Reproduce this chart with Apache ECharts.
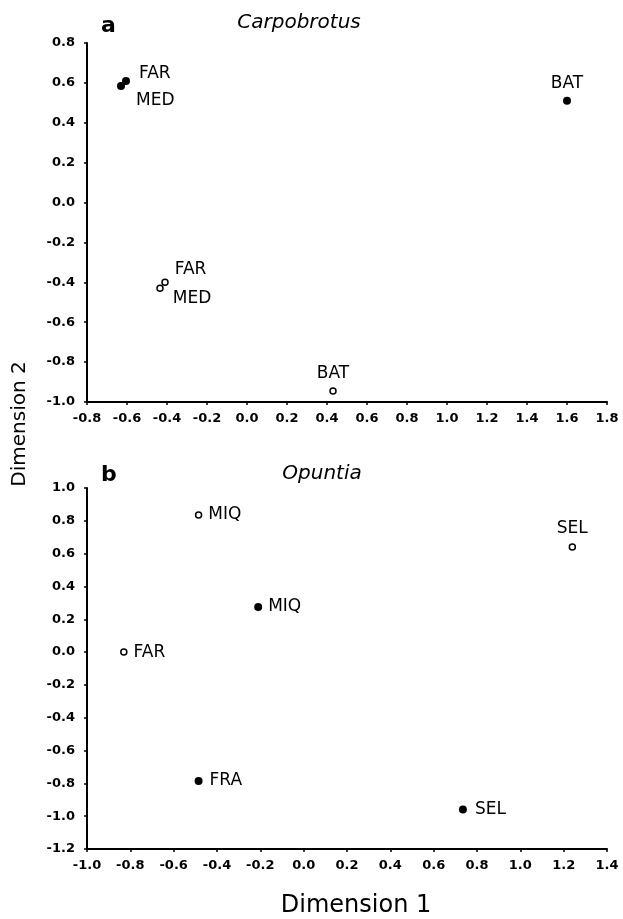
<!DOCTYPE html>
<html>
<head>
<meta charset="utf-8">
<script src="https://cdn.jsdelivr.net/npm/echarts@6/dist/echarts.min.js"></script>
<style>
  html, body { margin: 0; padding: 0; background: #fff; }
  #chart { width: 623px; height: 919px; }
</style>
</head>
<body>
<div id="chart"></div>
<script>
  // panel a - Carpobrotus
  var aFilledNames = ['FAR', 'MED', 'BAT'];
  var aFilledX = [-0.605, -0.63, 1.60];
  var aFilledY = [0.61, 0.585, 0.51];
  var aOpenNames = ['FAR', 'MED', 'BAT'];
  var aOpenX = [-0.41, -0.435, 0.43];
  var aOpenY = [-0.40, -0.43, -0.945];

  // panel b - Opuntia
  var bFilledNames = ['MIQ', 'FRA', 'SEL'];
  var bFilledX = [-0.21, -0.485, 0.735];
  var bFilledY = [0.275, -0.785, -0.96];
  var bOpenNames = ['MIQ', 'FAR', 'SEL'];
  var bOpenX = [-0.485, -0.83, 1.24];
  var bOpenY = [0.835, 0.0, 0.64];

  // label placement (style only)
  var aFilledLabel = [
    {position: 'right', distance: 9, offset: [0, -7]},
    {position: 'right', distance: 11, offset: [0, 15]},
    {position: 'top', distance: 5}
  ];
  var aOpenLabel = [
    {position: 'right', distance: 6, offset: [0, -13]},
    {position: 'right', distance: 9, offset: [0, 10]},
    {position: 'top', distance: 5}
  ];
  var bFilledLabel = [
    {position: 'right', distance: 6},
    {position: 'right', distance: 7},
    {position: 'right', distance: 8}
  ];
  var bOpenLabel = [
    {position: 'right', distance: 6},
    {position: 'right', distance: 6},
    {position: 'top', distance: 6}
  ];

  var FONT = 'DejaVu Sans';

  function points(names, xs, ys, place) {
    return names.map(function (n, i) {
      return {
        name: n,
        value: [xs[i], ys[i]],
        label: Object.assign({show: true, formatter: n, color: '#000'}, place[i])
      };
    });
  }

  function fmt(v) {
    return (Math.abs(v) < 1e-9 ? 0 : v).toFixed(1);
  }

  function axis(grid, min, max, isX) {
    return {
      type: 'value',
      gridIndex: grid,
      min: min,
      max: max,
      interval: 0.2,
      axisLine: {show: true, onZero: false, lineStyle: {color: '#000', width: 2}},
      axisTick: {show: true, length: 3, lineStyle: {color: '#000', width: 1.5}},
      splitLine: {show: false},
      axisLabel: {
        color: '#000',
        fontFamily: FONT,
        fontWeight: 'bold',
        fontSize: 13,
        margin: isX ? 10 : 12,
        padding: isX ? 0 : [6, 0, 0, 0],
        formatter: fmt
      }
    };
  }

  var labelStyle = {color: '#000', fontFamily: FONT, fontSize: 17};
  var filled = {color: '#000', opacity: 1};
  var open = {color: '#fff', borderColor: '#000', borderWidth: 1.5, opacity: 1};

  var myChart = echarts.init(document.getElementById('chart'));
  var option = {
    backgroundColor: '#fff',
    animation: false,
    grid: [
      {left: 87, top: 43, width: 520, height: 359},
      {left: 87, top: 488, width: 520, height: 361}
    ],
    xAxis: [axis(0, -0.8, 1.8, true), axis(1, -1.0, 1.4, true)],
    yAxis: [axis(0, -1.0, 0.8, false), axis(1, -1.2, 1.0, false)],
    series: [
      {
        type: 'scatter', xAxisIndex: 0, yAxisIndex: 0,
        symbolSize: 8, itemStyle: filled, label: labelStyle,
        data: points(aFilledNames, aFilledX, aFilledY, aFilledLabel)
      },
      {
        type: 'scatter', xAxisIndex: 0, yAxisIndex: 0,
        symbolSize: 6, itemStyle: open, label: labelStyle,
        data: points(aOpenNames, aOpenX, aOpenY, aOpenLabel)
      },
      {
        type: 'scatter', xAxisIndex: 1, yAxisIndex: 1,
        symbolSize: 8, itemStyle: filled, label: labelStyle,
        data: points(bFilledNames, bFilledX, bFilledY, bFilledLabel)
      },
      {
        type: 'scatter', xAxisIndex: 1, yAxisIndex: 1,
        symbolSize: 6, itemStyle: open, label: labelStyle,
        data: points(bOpenNames, bOpenX, bOpenY, bOpenLabel)
      }
    ],
    graphic: [
      {type: 'text', x: 101, y: 26, style: {text: 'a', font: 'bold 22px "DejaVu Sans"', fill: '#000', verticalAlign: 'middle'}},
      {type: 'text', x: 299, y: 23, style: {text: 'Carpobrotus', font: 'italic 20px "DejaVu Sans"', fill: '#000', align: 'center', verticalAlign: 'middle'}},
      {type: 'text', x: 101, y: 475, style: {text: 'b', font: 'bold 22px "DejaVu Sans"', fill: '#000', verticalAlign: 'middle'}},
      {type: 'text', x: 322, y: 474, style: {text: 'Opuntia', font: 'italic 20px "DejaVu Sans"', fill: '#000', align: 'center', verticalAlign: 'middle'}},
      {type: 'text', x: 356, y: 906, style: {text: 'Dimension 1', font: '24px "DejaVu Sans"', fill: '#000', align: 'center', verticalAlign: 'middle'}},
      {type: 'text', x: 20, y: 424, rotation: Math.PI / 2, style: {text: 'Dimension 2', font: '20px "DejaVu Sans"', fill: '#000', align: 'center', verticalAlign: 'middle'}}
    ]
  };
  myChart.setOption(option);
</script>
</body>
</html>
